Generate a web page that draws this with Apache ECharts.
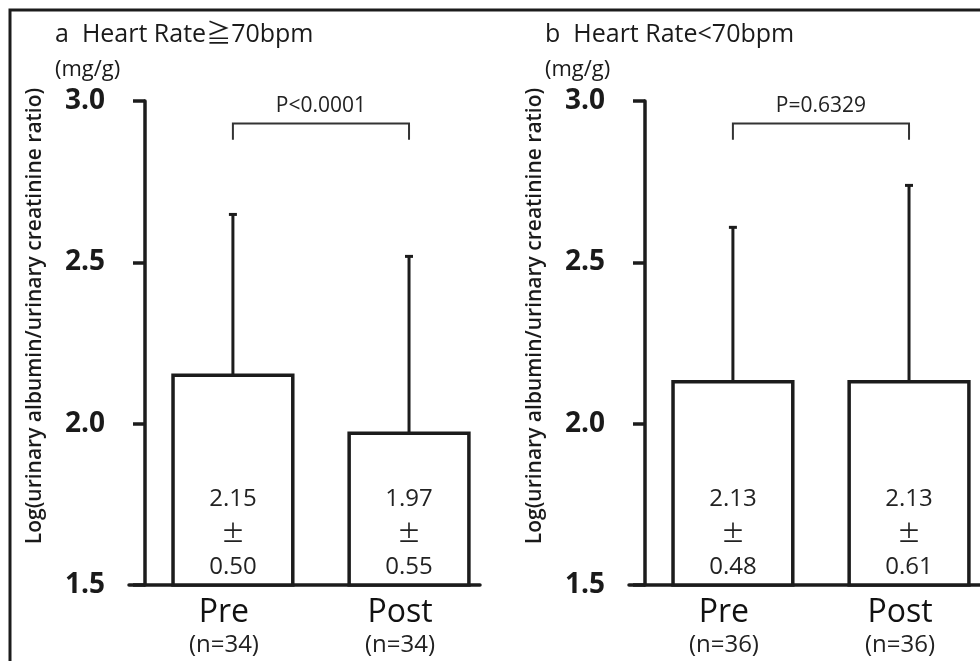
<!DOCTYPE html>
<html>
<head>
<meta charset="utf-8">
<script src="https://cdn.jsdelivr.net/npm/echarts@6/dist/echarts.min.js"></script>
<style>html,body{margin:0;padding:0;background:#fff;}#c{width:980px;height:661px;}</style>
</head>
<body>
<div id="c"></div>
<script>
// ---- data ----
const categories = ['Pre', 'Post'];
const nLabelsA = ['(n=34)', '(n=34)'];
const nLabelsB = ['(n=36)', '(n=36)'];
const meanA = [2.15, 1.97];
const sdA = [0.50, 0.55];
const meanB = [2.13, 2.13];
const sdB = [0.48, 0.61];
const yTicks = [1.5, 2.0, 2.5, 3.0];
const pValueA = 'P<0.0001';
const pValueB = 'P=0.6329';
const titleA = 'a  Heart Rate\u226770bpm';
const titleB = 'b  Heart Rate<70bpm';
const unitLabel = '(mg/g)';
const yName = 'Log(urinary albumin/urinary creatinine ratio)';

// ---- layout / style constants ----
const INK = '#1c1c1c';
const FONT = '"Open Sans", "Noto Sans CJK JP", sans-serif';
const X_MIN = -0.59, X_MAX = 1.403;
const BAR_W = 0.68;          // in x-data units
const BRACKET_Y = 2.93, BRACKET_LEG = 2.88, P_Y = 2.985;

const chart = echarts.init(document.getElementById('c'));

function panelSeries(idx, mean, sd, pText) {
  const data = categories.map((c, i) => [i, mean[i], sd[i]]);
  return [{
    type: 'custom',
    xAxisIndex: idx, yAxisIndex: idx,
    data: data,
    clip: false,
    renderItem: function (params, api) {
      const x = api.value(0), m = api.value(1), s = api.value(2);
      const base = api.coord([x, yTicks[0]]);
      const top = api.coord([x, m]);
      const eTop = api.coord([x, m + s]);
      const w = api.size([BAR_W, 0])[0];
      const cx = base[0];
      return {
        type: 'group',
        children: [
          { type: 'line', shape: { x1: cx, y1: top[1], x2: cx, y2: eTop[1] },
            style: { stroke: INK, lineWidth: 3 } },
          { type: 'rect', shape: { x: cx - 4, y: eTop[1] - 1, width: 8, height: 3 },
            style: { fill: INK } },
          { type: 'rect', shape: { x: cx - w / 2, y: top[1], width: w, height: base[1] - top[1] },
            style: { fill: '#fff', stroke: INK, lineWidth: 3.5 } },
          { type: 'text', x: cx, y: base[1] - 1,
            style: {
              text: '{n|' + m.toFixed(2) + '}\n{pm|\u00b1}\n{n|' + s.toFixed(2) + '}',
              align: 'center', verticalAlign: 'bottom',
              rich: {
                n: { fontSize: 24, fontFamily: FONT, lineHeight: 34, fill: '#222' },
                pm: { fontSize: 24, fontFamily: '"Noto Sans CJK JP", sans-serif', lineHeight: 34, fill: '#222' }
              }
            } }
        ]
      };
    }
  }, {
    type: 'custom',
    xAxisIndex: idx, yAxisIndex: idx,
    data: [[0, 1]],
    clip: false,
    renderItem: function (params, api) {
      const a = api.value(0), b = api.value(1);
      const p1 = api.coord([a, BRACKET_LEG]);
      const p2 = api.coord([a, BRACKET_Y]);
      const p3 = api.coord([b, BRACKET_Y]);
      const p4 = api.coord([b, BRACKET_LEG]);
      const pt = api.coord([(a + b) / 2, P_Y]);
      return {
        type: 'group',
        children: [
          { type: 'polyline', shape: { points: [p1, p2, p3, p4] },
            style: { stroke: '#333', lineWidth: 2, fill: null } },
          { type: 'text', x: pt[0], y: pt[1],
            style: { text: pText, align: 'center', verticalAlign: 'middle', font: '21px ' + FONT, fill: '#222' } }
        ]
      };
    }
  }];
}

function xAxis(idx, nLabels) {
  return {
    type: 'value', gridIndex: idx, min: X_MIN, max: X_MAX,
    splitLine: { show: false },
    axisLine: { show: true, onZero: false, lineStyle: { color: INK, width: 3.5 } },
    axisTick: { show: false },
    axisLabel: {
      customValues: [0, 1],
      margin: 10,
      padding: [0, 18, 0, 0],
      formatter: function (v) { const i = Math.round(v); return '{a|' + categories[i] + '}\n{b|' + nLabels[i] + '}'; },
      rich: {
        a: { fontSize: 32, fontFamily: FONT, color: '#111', lineHeight: 36 },
        b: { fontSize: 24, fontFamily: FONT, color: '#222', lineHeight: 28 }
      }
    }
  };
}

function yAxis(idx) {
  return {
    type: 'value', gridIndex: idx, min: yTicks[0], max: yTicks[yTicks.length - 1], interval: 0.5,
    offset: -16,
    splitLine: { show: false },
    axisLine: { show: true, onZero: false, lineStyle: { color: INK, width: 3.5 } },
    axisTick: { show: true, length: 12, lineStyle: { color: INK, width: 3.5 } },
    axisLabel: { margin: 40, fontSize: 28, fontWeight: 'bold', fontFamily: FONT, color: '#1a1a1a',
      formatter: function (v) { return v.toFixed(1); } },
    name: yName, nameLocation: 'middle', nameGap: 99,
    nameTextStyle: { fontSize: 21, fontWeight: 600, fontFamily: FONT, color: '#1a1a1a', padding: [0, 0, 0, 54] }
  };
}

chart.setOption({
  animation: false,
  backgroundColor: '#fff',
  grid: [
    { left: 129, top: 101, width: 351, height: 484 },
    { left: 629, top: 101, width: 351, height: 484 }
  ],
  xAxis: [xAxis(0, nLabelsA), xAxis(1, nLabelsB)],
  yAxis: [yAxis(0), yAxis(1)],
  graphic: [
    { type: 'rect', shape: { x: 10, y: 10, width: 1100, height: 800 }, style: { fill: null, stroke: INK, lineWidth: 3 }, silent: true },
    { type: 'text', x: 55, y: 35, style: { text: titleA, font: '25px ' + FONT, fill: '#1a1a1a', verticalAlign: 'middle' } },
    { type: 'text', x: 55, y: 70, style: { text: unitLabel, font: '22px ' + FONT, fill: '#1a1a1a', verticalAlign: 'middle' } },
    { type: 'text', x: 545, y: 35, style: { text: titleB, font: '25px ' + FONT, fill: '#1a1a1a', verticalAlign: 'middle' } },
    { type: 'text', x: 545, y: 70, style: { text: unitLabel, font: '22px ' + FONT, fill: '#1a1a1a', verticalAlign: 'middle' } }
  ],
  series: [].concat(panelSeries(0, meanA, sdA, pValueA), panelSeries(1, meanB, sdB, pValueB))
});
</script>
</body>
</html>
